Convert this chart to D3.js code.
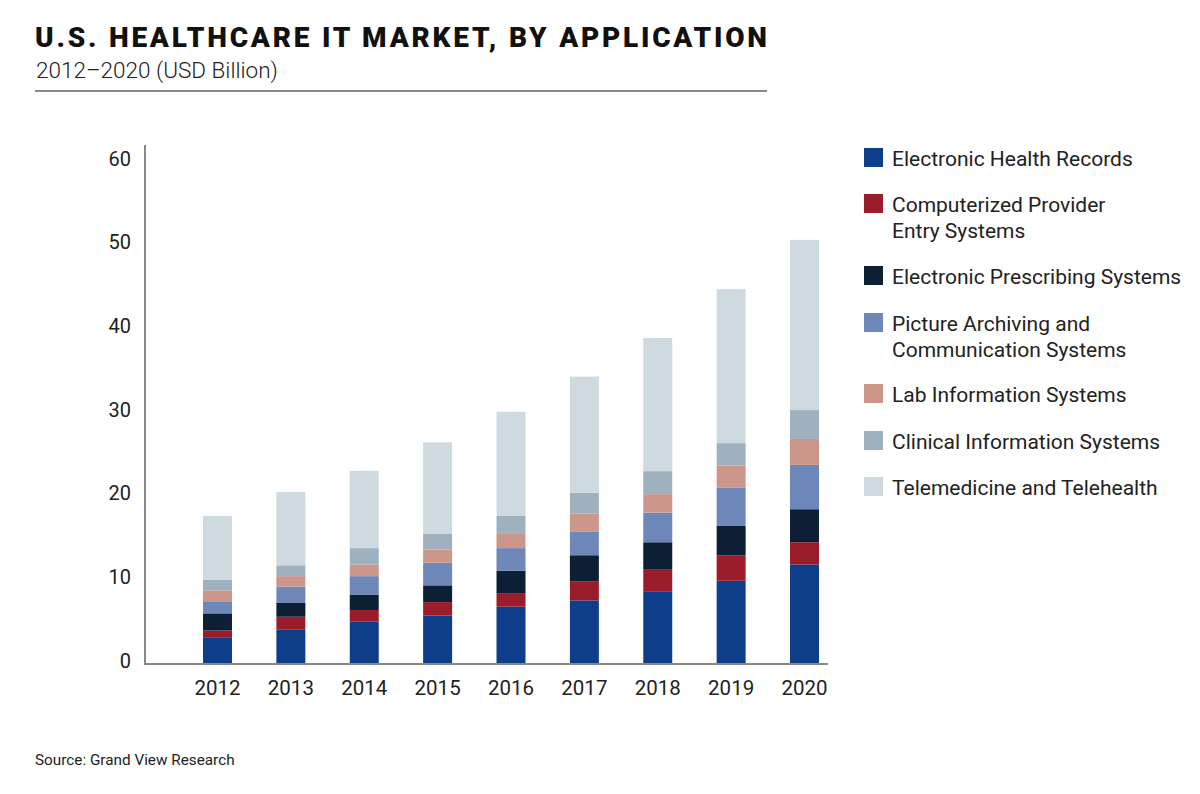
<!DOCTYPE html>
<html>
<head>
<meta charset="utf-8">
<script src="https://cdn.jsdelivr.net/npm/d3@7"></script>
<style>
  html, body { margin: 0; padding: 0; background: #fff; }
  svg { display: block; }
  text { font-family: Roboto, "Noto Sans", sans-serif; }
</style>
</head>
<body>
<svg id="chart" width="1200" height="794"></svg>
<script>
// ---- data ----
const years = ["2012","2013","2014","2015","2016","2017","2018","2019","2020"];
const seriesNames = [
  "Electronic Health Records",
  "Computerized Provider Entry Systems",
  "Electronic Prescribing Systems",
  "Picture Archiving and Communication Systems",
  "Lab Information Systems",
  "Clinical Information Systems",
  "Telemedicine and Telehealth"
];
const legendLines = [
  ["Electronic Health Records"],
  ["Computerized Provider", "Entry Systems"],
  ["Electronic Prescribing Systems"],
  ["Picture Archiving and", "Communication Systems"],
  ["Lab Information Systems"],
  ["Clinical Information Systems"],
  ["Telemedicine and Telehealth"]
];
const ehr  = [3.2, 4.15, 5.1, 5.8, 6.85, 7.6, 8.7, 9.95, 11.9];
const cpoe = [0.8, 1.5, 1.35, 1.6, 1.55, 2.25, 2.65, 3.05, 2.65];
const eps  = [2.05, 1.7, 1.85, 2.0, 2.75, 3.15, 3.2, 3.5, 3.95];
const pacs = [1.45, 1.9, 2.2, 2.7, 2.7, 2.85, 3.55, 4.6, 5.3];
const lab  = [1.3, 1.25, 1.4, 1.6, 1.7, 2.15, 2.2, 2.6, 3.1];
const cis  = [1.3, 1.3, 1.95, 1.85, 2.15, 2.45, 2.75, 2.7, 3.45];
const tele = [7.6, 8.75, 9.25, 10.95, 12.45, 13.9, 15.9, 18.4, 20.35];
const yTicks = [0, 10, 20, 30, 40, 50, 60];
const colors = ["#0e3d8a", "#9b1c2b", "#0c1f35", "#6d87b8", "#cc968a", "#9fb0bf", "#cfd9e0"];

const allSeries = [ehr, cpoe, eps, pacs, lab, cis, tele];
const table = years.map((yr, i) => {
  const row = { year: yr };
  seriesNames.forEach((s, k) => row[s] = allSeries[k][i]);
  return row;
});
const stacked = d3.stack().keys(seriesNames)(table);

const svg = d3.select("#chart");

// ---- title ----
svg.append("text")
  .attr("x", 35).attr("y", 47)
  .attr("textLength", 732).attr("lengthAdjust", "spacing")
  .style("font-size", "28px").style("font-weight", 900).style("fill", "#111")
  .text("U.S. HEALTHCARE IT MARKET, BY APPLICATION");
svg.append("text")
  .attr("x", 36).attr("y", 78)
  .style("font-size", "22.5px").style("font-weight", 300).style("fill", "#222")
  .text("2012\u20132020 (USD Billion)");
svg.append("line")
  .attr("x1", 35).attr("x2", 767).attr("y1", 91).attr("y2", 91)
  .attr("stroke", "#888").attr("stroke-width", 2);

// ---- scales ----
const axisX = 145, axisRight = 828;
const x = d3.scaleBand().domain(years).range([203, 819]).paddingInner(0.605).paddingOuter(0);
const y = d3.scaleLinear().domain([0, 60]).range([664, 162]);
const color = d3.scaleOrdinal().domain(seriesNames).range(colors);

// ---- bars ----
svg.append("g").selectAll("g")
  .data(stacked).join("g")
  .attr("fill", d => color(d.key))
  .selectAll("rect")
  .data(d => d).join("rect")
  .attr("x", d => x(d.data.year))
  .attr("width", x.bandwidth())
  .attr("y", d => y(d[1]))
  .attr("height", d => y(d[0]) - y(d[1]));

// ---- axes ----
const gy = svg.append("g").attr("transform", `translate(${axisX},0)`)
  .call(d3.axisLeft(y).tickValues(yTicks).tickSize(0).tickPadding(14));
gy.select(".domain").remove();
gy.selectAll("text").style("font-size", "20px").style("fill", "#222")
  .style("font-family", "Roboto, sans-serif").attr("dy", "0.15em");

const gx = svg.append("g").attr("transform", `translate(0,${y(0)})`)
  .call(d3.axisBottom(x).tickSize(0).tickPadding(16));
gx.select(".domain").remove();
gx.selectAll("text").style("font-size", "20.5px").style("fill", "#222")
  .style("font-family", "Roboto, sans-serif");

svg.append("line")
  .attr("x1", axisX).attr("x2", axisX)
  .attr("y1", y(0) + 1).attr("y2", y(60) - 17)
  .attr("stroke", "#888").attr("stroke-width", 2);
svg.append("line")
  .attr("x1", axisX - 1).attr("x2", axisRight)
  .attr("y1", y(0)).attr("y2", y(0))
  .attr("stroke", "#888").attr("stroke-width", 2);

// ---- legend ----
const legendTops = [148, 194, 266, 313, 384, 431, 477];
const lg = svg.append("g");
seriesNames.forEach((s, i) => {
  const g = lg.append("g").attr("transform", `translate(864,${legendTops[i]})`);
  g.append("rect").attr("width", 19).attr("height", 19).attr("fill", color(s));
  legendLines[i].forEach((line, j) => {
    g.append("text")
      .attr("x", 28).attr("y", 18 + j * 26)
      .style("font-size", "21px").style("font-weight", 400).style("fill", "#222")
      .text(line);
  });
});

// ---- source ----
svg.append("text")
  .attr("x", 35).attr("y", 765)
  .style("font-size", "15.3px").style("fill", "#222")
  .text("Source: Grand View Research");
</script>
</body>
</html>
